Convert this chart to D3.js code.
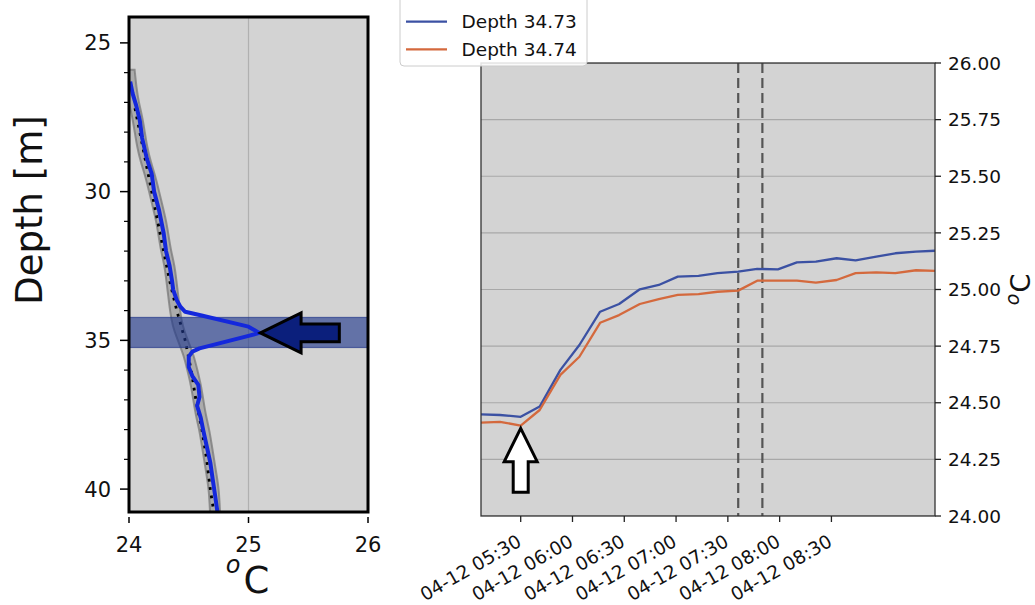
<!DOCTYPE html>
<html><head><meta charset="utf-8">
<script src="https://cdn.jsdelivr.net/npm/d3@7"></script>
<style>body{margin:0;background:#fff}svg{display:block;font-family:"DejaVu Sans",sans-serif}</style>
</head><body>
<svg id="c" width="1035" height="605"></svg>
<script>
// ---------- data ----------
// Left panel: temperature profile [depth m, temp °C]
const profileBlue = [[26.3,24.01],[26.7,24.03],[27.1,24.06],[27.6,24.09],[28.2,24.11],[28.9,24.15],[29.4,24.19],[30.0,24.21],[30.6,24.25],[31.4,24.29],[32.0,24.31],[32.5,24.34],[33.0,24.36],[33.3,24.37],[33.65,24.40],[33.87,24.43],[34.04,24.47],[34.15,24.59],[34.54,25.0],[34.75,25.09],[34.85,25.0],[35.27,24.59],[35.38,24.53],[35.55,24.50],[35.9,24.50],[36.2,24.53],[36.5,24.58],[36.9,24.59],[37.2,24.57],[37.6,24.60],[38.0,24.62],[38.55,24.65],[39.1,24.68],[39.66,24.70],[40.2,24.72],[40.77,24.74]];
const profileGray = [[25.9,24.005],[26.5,24.02],[27.0,24.04],[27.5,24.07],[28.0,24.09],[28.5,24.11],[29.0,24.14],[29.5,24.18],[30.0,24.21],[30.5,24.24],[31.0,24.27],[31.5,24.29],[32.0,24.31],[32.5,24.34],[33.0,24.355],[33.5,24.37],[34.0,24.385],[34.5,24.405],[35.0,24.45],[35.5,24.50],[36.0,24.53],[36.5,24.56],[37.0,24.58],[37.5,24.60],[38.0,24.63],[38.5,24.65],[39.0,24.67],[39.5,24.69],[40.0,24.71],[40.77,24.72]];
const grayHalfWidth = 0.042;
const profileTrend = [[27.2,24.05],[28.0,24.09],[29.0,24.14],[30,24.19],[31,24.24],[32,24.29],[33,24.34],[34,24.40],[35,24.47],[36,24.52],[37,24.56],[38,24.61],[39,24.65],[40,24.68],[40.77,24.71]];
const band = [34.23, 35.24];
const arrowLeft = {tip:[25.10,34.75], headBack:25.44, tail:25.76, headHalf:0.67, shaftHalf:0.30};
const leftXTicks = [24,25,26];
const leftYMajor = [25,30,35,40];
const leftYMinor = [26,27,28,29,31,32,33,34,36,37,38,39];

// Right panel: time series
const times = ["05:07","05:18","05:30","05:41","05:53","06:04","06:16","06:27","06:39","06:50","07:01","07:13","07:24","07:36","07:47","07:59","08:10","08:21","08:33","08:44","08:56","09:07","09:19","09:30"];
const series1 = [24.449,24.446,24.438,24.483,24.645,24.755,24.902,24.936,25.001,25.020,25.057,25.060,25.072,25.079,25.091,25.089,25.120,25.123,25.138,25.129,25.145,25.160,25.167,25.171];
const series2 = [24.412,24.416,24.399,24.468,24.623,24.703,24.853,24.887,24.936,24.958,24.976,24.980,24.990,24.995,25.039,25.039,25.039,25.030,25.042,25.072,25.076,25.072,25.085,25.082];
const seriesNames = ["Depth 34.73","Depth 34.74"];
const seriesColors = ["#3b51a3","#d4693d"];
const dashedTimes = ["07:36","07:50"];
const arrowRight = {tip:["05:30",24.387], headBase:24.240, bottom:24.105};
const rightYTicks = [24.00,24.25,24.50,24.75,25.00,25.25,25.50,25.75,26.00];
const rightXTicks = ["05:30","06:00","06:30","07:00","07:30","08:00","08:30"];

// ---------- drawing ----------
const svg = d3.select("#c");
const parseT = s => d3.timeParse("%Y-%m-%d %H:%M")("2019-04-12 " + s);
const BG = "#d3d3d3";

// ===== Left panel =====
const L = {x0:129, x1:368, y0:17, y1:512};
const lx = d3.scaleLinear().domain([24,26]).range([L.x0,L.x1]);
const ly = d3.scaleLinear().domain([24.13,40.77]).range([L.y0,L.y1]);
const gl = svg.append("g");
gl.append("clipPath").attr("id","clipL").append("rect")
  .attr("x",L.x0).attr("y",L.y0).attr("width",L.x1-L.x0).attr("height",L.y1-L.y0);
gl.append("rect").attr("x",L.x0).attr("y",L.y0).attr("width",L.x1-L.x0).attr("height",L.y1-L.y0).attr("fill",BG);
const pl = gl.append("g").attr("clip-path","url(#clipL)");
pl.append("line").attr("x1",lx(25)).attr("x2",lx(25)).attr("y1",L.y0).attr("y2",L.y1)
  .attr("stroke","#b0b0b0").attr("stroke-width",1.2);
// gray envelope
pl.append("path").datum(profileGray)
  .attr("d", d3.area().y(d=>ly(d[0])).x0(d=>lx(d[1]-grayHalfWidth)).x1(d=>lx(d[1]+grayHalfWidth)).curve(d3.curveBasis))
  .attr("fill","rgba(140,140,140,0.55)").attr("stroke","rgba(115,115,115,0.7)").attr("stroke-width",2);
// trend (dotted)
pl.append("path").datum(profileTrend)
  .attr("d", d3.line().y(d=>ly(d[0])).x(d=>lx(d[1])))
  .attr("fill","none").attr("stroke","#000").attr("stroke-width",2.8)
  .attr("stroke-dasharray","2.8,5.6");
// band
pl.append("rect").attr("x",L.x0).attr("width",L.x1-L.x0)
  .attr("y",ly(band[0])).attr("height",ly(band[1])-ly(band[0]))
  .attr("fill","rgba(30,55,140,0.62)").attr("stroke","rgba(40,60,140,0.7)").attr("stroke-width",1.2);
// blue profile
pl.append("path").datum(profileBlue)
  .attr("d", d3.line().y(d=>ly(d[0])).x(d=>lx(d[1])))
  .attr("fill","none").attr("stroke","#1428dc").attr("stroke-width",4).attr("stroke-linejoin","round");
// left arrow
{
  const a = arrowLeft, ty = a.tip[1];
  const pts = [[a.tip[0],ty],[a.headBack,ty-a.headHalf],[a.headBack,ty-a.shaftHalf],[a.tail,ty-a.shaftHalf],
               [a.tail,ty+a.shaftHalf],[a.headBack,ty+a.shaftHalf],[a.headBack,ty+a.headHalf]];
  pl.append("polygon").attr("points", pts.map(p=>[lx(p[0]),ly(p[1])].join(",")).join(" "))
    .attr("fill","#0b1f7c").attr("stroke","#000").attr("stroke-width",3).attr("stroke-linejoin","miter");
}
// frame
gl.append("rect").attr("x",L.x0).attr("y",L.y0).attr("width",L.x1-L.x0).attr("height",L.y1-L.y0)
  .attr("fill","none").attr("stroke","#000").attr("stroke-width",3);
// y ticks
leftYMajor.forEach(v=>{
  gl.append("line").attr("x1",L.x0-9).attr("x2",L.x0).attr("y1",ly(v)).attr("y2",ly(v)).attr("stroke","#000").attr("stroke-width",1.5);
  gl.append("text").attr("x",L.x0-18).attr("y",ly(v)).attr("dy","0.36em").attr("text-anchor","end")
    .attr("font-size",21).attr("fill","#111").text(v);
});
leftYMinor.forEach(v=>{
  gl.append("line").attr("x1",L.x0-5).attr("x2",L.x0).attr("y1",ly(v)).attr("y2",ly(v)).attr("stroke","#000").attr("stroke-width",1.2);
});
// x ticks (offset below frame)
leftXTicks.forEach(v=>{
  gl.append("line").attr("x1",lx(v)).attr("x2",lx(v)).attr("y1",517).attr("y2",523).attr("stroke","#000").attr("stroke-width",1.5);
  gl.append("text").attr("x",lx(v)).attr("y",552).attr("text-anchor","middle").attr("font-size",21).attr("fill","#111").text(v);
});
// labels
gl.append("text").attr("transform","translate(42,210) rotate(-90)").attr("text-anchor","middle")
  .attr("font-size",37).attr("fill","#111").text("Depth [m]");
{
  const t = gl.append("text").attr("x",lx(25)-1).attr("y",593).attr("text-anchor","middle").attr("fill","#111");
  t.append("tspan").attr("font-size",24).attr("font-style","italic").attr("dy",-20).text("o");
  t.append("tspan").attr("font-size",37).attr("dx",3).attr("dy",20).text("C");
}

// ===== Right panel =====
const R = {x0:481, x1:935, y0:63, y1:516};
const tDates = times.map(parseT);
const rx = d3.scaleTime().domain([tDates[0], tDates[tDates.length-1]]).range([R.x0,R.x1]);
const ry = d3.scaleLinear().domain([24,26]).range([R.y1,R.y0]);
const gr = svg.append("g");
gr.append("clipPath").attr("id","clipR").append("rect")
  .attr("x",R.x0).attr("y",R.y0).attr("width",R.x1-R.x0).attr("height",R.y1-R.y0);
gr.append("rect").attr("x",R.x0).attr("y",R.y0).attr("width",R.x1-R.x0).attr("height",R.y1-R.y0).attr("fill",BG);
const pr = gr.append("g").attr("clip-path","url(#clipR)");
rightYTicks.forEach(v=>{
  pr.append("line").attr("x1",R.x0).attr("x2",R.x1).attr("y1",ry(v)).attr("y2",ry(v))
    .attr("stroke","#a8a8a8").attr("stroke-width",1.2);
});
dashedTimes.forEach(s=>{
  const x = rx(parseT(s));
  pr.append("line").attr("x1",x).attr("x2",x).attr("y1",R.y0).attr("y2",R.y1)
    .attr("stroke","#555").attr("stroke-width",2.2).attr("stroke-dasharray","10,5");
});
[series1, series2].forEach((s,i)=>{
  pr.append("path").datum(s.map((v,j)=>[tDates[j],v]))
    .attr("d", d3.line().x(d=>rx(d[0])).y(d=>ry(d[1])))
    .attr("fill","none").attr("stroke",seriesColors[i]).attr("stroke-width",2.3).attr("stroke-linejoin","round");
});
// white arrow (px widths)
{
  const a = arrowRight, cx = rx(parseT(a.tip[0]));
  const hw = 16.5, sw = 7.5;
  const yt = ry(a.tip[1]), yh = ry(a.headBase), yb = ry(a.bottom);
  const pts = [[cx,yt],[cx+hw,yh],[cx+sw,yh],[cx+sw,yb],[cx-sw,yb],[cx-sw,yh],[cx-hw,yh]];
  pr.append("polygon").attr("points", pts.map(p=>p.join(",")).join(" "))
    .attr("fill","#fff").attr("stroke","#000").attr("stroke-width",3);
}
gr.append("rect").attr("x",R.x0).attr("y",R.y0).attr("width",R.x1-R.x0).attr("height",R.y1-R.y0)
  .attr("fill","none").attr("stroke","#333").attr("stroke-width",1.3);
// right y axis
rightYTicks.forEach(v=>{
  gr.append("line").attr("x1",R.x1).attr("x2",R.x1+6).attr("y1",ry(v)).attr("y2",ry(v)).attr("stroke","#222").attr("stroke-width",1.3);
  gr.append("text").attr("x",R.x1+13).attr("y",ry(v)).attr("dy","0.36em").attr("font-size",18.5).attr("fill","#111")
    .text(d3.format(".2f")(v));
});
// x axis
const fmt = d3.timeFormat("%m-%d %H:%M");
rightXTicks.forEach(s=>{
  const d = parseT(s), x = rx(d);
  gr.append("line").attr("x1",x).attr("x2",x).attr("y1",R.y1).attr("y2",R.y1+6).attr("stroke","#222").attr("stroke-width",1.3);
  gr.append("text").attr("transform",`translate(${x+2},${545}) rotate(-30)`).attr("text-anchor","end")
    .attr("font-size",18.5).attr("fill","#111").text(fmt(d));
});
{
  const t = gr.append("text").attr("transform",`translate(1030,${(R.y0+R.y1)/2}) rotate(-90)`)
    .attr("text-anchor","middle").attr("fill","#111");
  t.append("tspan").attr("font-size",19).attr("font-style","italic").attr("dy",-11).text("o");
  t.append("tspan").attr("font-size",27).attr("dx",1).attr("dy",11).text("C");
}
// legend
{
  const lg = svg.append("g");
  lg.append("rect").attr("x",400).attr("y",-5).attr("width",187).attr("height",71).attr("rx",4)
    .attr("fill","rgba(255,255,255,0.85)").attr("stroke","#cccccc").attr("stroke-width",1);
  seriesNames.forEach((n,i)=>{
    const y = 21.7 + i*27.6;
    lg.append("line").attr("x1",406).attr("x2",447).attr("y1",y).attr("y2",y).attr("stroke",seriesColors[i]).attr("stroke-width",2.2);
    lg.append("text").attr("x",461.5).attr("y",y+6.3).attr("font-size",18.5).attr("fill","#111").text(n);
  });
}
</script>
</body></html>
